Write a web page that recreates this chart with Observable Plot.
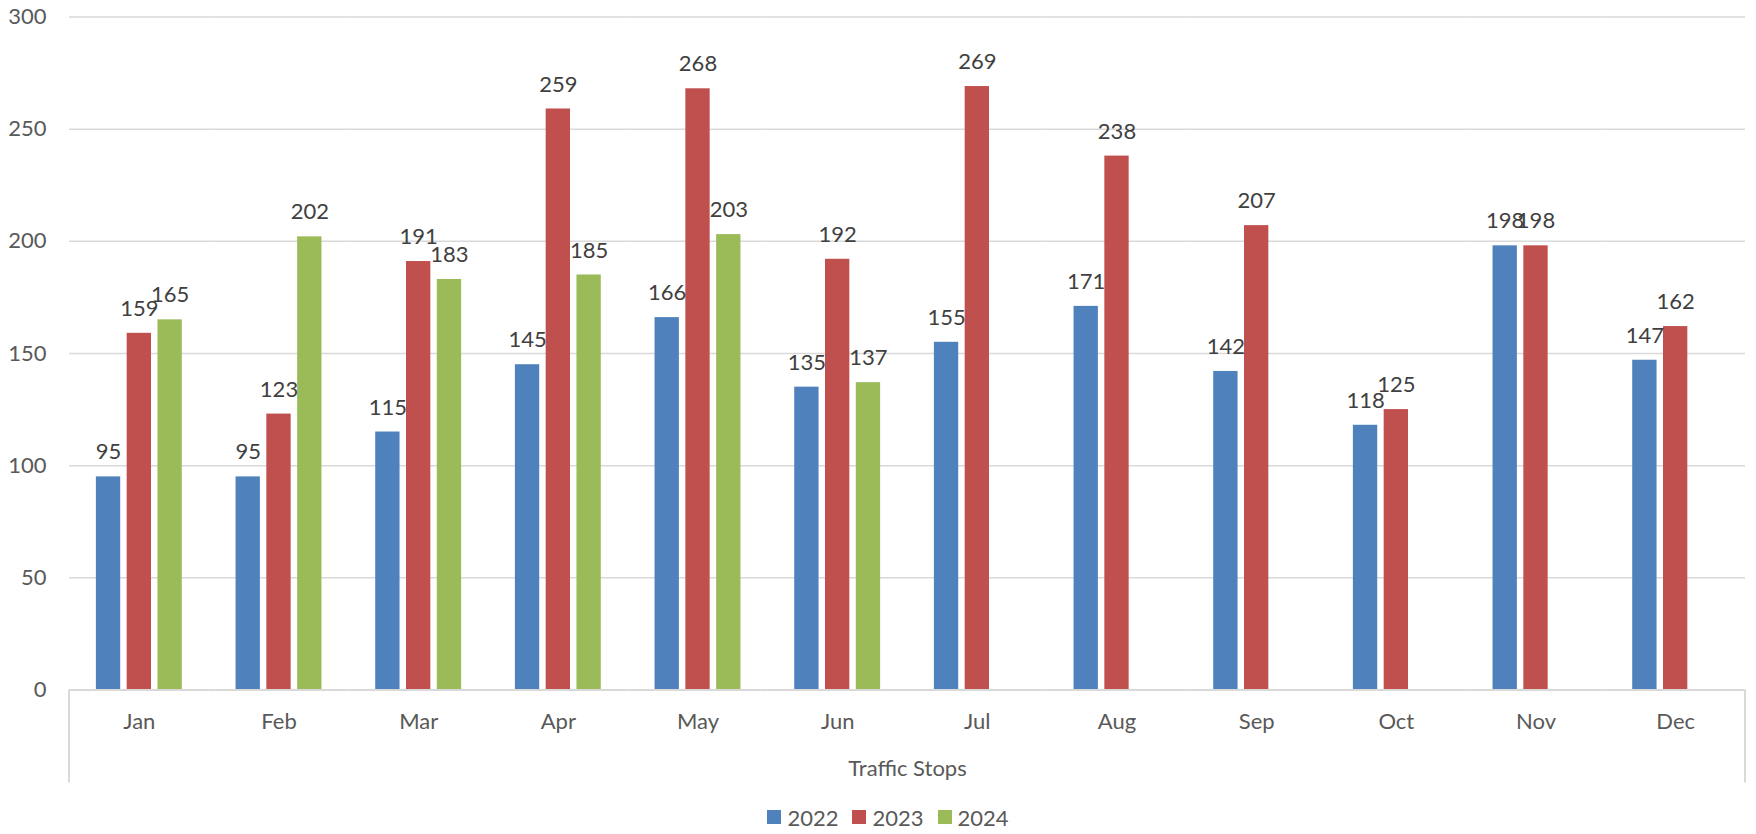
<!DOCTYPE html>
<html>
<head>
<meta charset="utf-8">
<script src="https://cdn.jsdelivr.net/npm/d3@7"></script>
<script src="https://cdn.jsdelivr.net/npm/@observablehq/plot@0.6"></script>
<style>
  html, body { margin: 0; padding: 0; background: #fff; }
  #chart svg { display: block; }
  #legend { display: flex; justify-content: center; align-items: center; height: 34px; padding-left: 20px;
            font-family: Lato, "Open Sans", sans-serif; font-size: 22px; color: #595959; }
  .item { display: flex; align-items: center; margin: 0 7px; }
  .sw { width: 14px; height: 14px; margin-right: 6px; }
</style>
</head>
<body>
<div id="chart"></div>
<div id="legend"></div>
<script>
const months = ["Jan","Feb","Mar","Apr","May","Jun","Jul","Aug","Sep","Oct","Nov","Dec"];
const years = ["2022","2023","2024"];
const v2022 = [95,95,115,145,166,135,155,171,142,118,198,147];
const v2023 = [159,123,191,259,268,192,269,238,207,125,198,162];
const v2024 = [165,202,183,185,203,137,null,null,null,null,null,null];
const colors = ["#4f81bd","#c0504d","#9bbb59"];
const yTicks = [0,50,100,150,200,250,300];
const axisTitle = "Traffic Stops";

const series = [v2022, v2023, v2024];
const data = [];
months.forEach((m, i) => years.forEach((y, j) => {
  const v = series[j][i];
  if (v != null) data.push({month: m, year: y, value: v});
}));

const FONT = "Lato, 'Open Sans', sans-serif";
const W = 1756, H = 800;

const plot = Plot.plot({
  width: W, height: H,
  marginLeft: 69, marginRight: 11, marginTop: 16.5, marginBottom: 110.5,
  style: {fontFamily: FONT, fontSize: "22px", background: "#fff"},
  fx: {domain: months, padding: 0, round: false, label: null},
  x: {domain: years, paddingInner: 0.21, paddingOuter: 0.873, round: false, axis: null},
  y: {domain: [0, 300], ticks: yTicks, label: null},
  color: {domain: years, range: colors},
  marks: [
    Plot.gridY(yTicks.filter(t => t > 0), {stroke: "#d9d9d9", strokeOpacity: 1, strokeWidth: 1.5}),
    Plot.axisY({ticks: yTicks, tickSize: 0, tickPadding: 23, fill: "#595959", fontSize: 22, label: null}),
    Plot.axisFx({anchor: "bottom", tickSize: 0, tickPadding: 23, fill: "#595959", fontSize: 22, label: null}),
    Plot.barY(data, {fx: "month", x: "year", y: "value", fill: "year"}),
    Plot.ruleY([0], {stroke: "#d9d9d9", strokeWidth: 2}),
    Plot.text(data, {fx: "month", x: "year", y: "value", text: d => String(d.value),
      dy: -24.5, lineAnchor: "middle", fill: "#404040", fontSize: 22}),
    Plot.text([axisTitle], {fx: () => "Jun", frameAnchor: "bottom-right", textAnchor: "middle",
      lineAnchor: "middle", dy: 78.5, fill: "#595959", fontSize: 22})
  ]
});

document.getElementById("chart").appendChild(plot);

// Category-box side lines at the frame edges (from the fx scale range)
const fxs = plot.scale("fx");
const ys = plot.scale("y");
const base = ys.apply(0);
const svg = d3.select(plot);
[fxs.range[0], fxs.range[1]].forEach(xp => {
  svg.append("line").attr("x1", xp).attr("x2", xp).attr("y1", base).attr("y2", base + 93)
    .attr("stroke", "#d9d9d9").attr("stroke-width", 2);
});

const legend = d3.select("#legend");
years.forEach((y, i) => {
  const it = legend.append("div").attr("class", "item");
  it.append("div").attr("class", "sw").style("background", colors[i]);
  it.append("span").text(y);
});
</script>
</body>
</html>
